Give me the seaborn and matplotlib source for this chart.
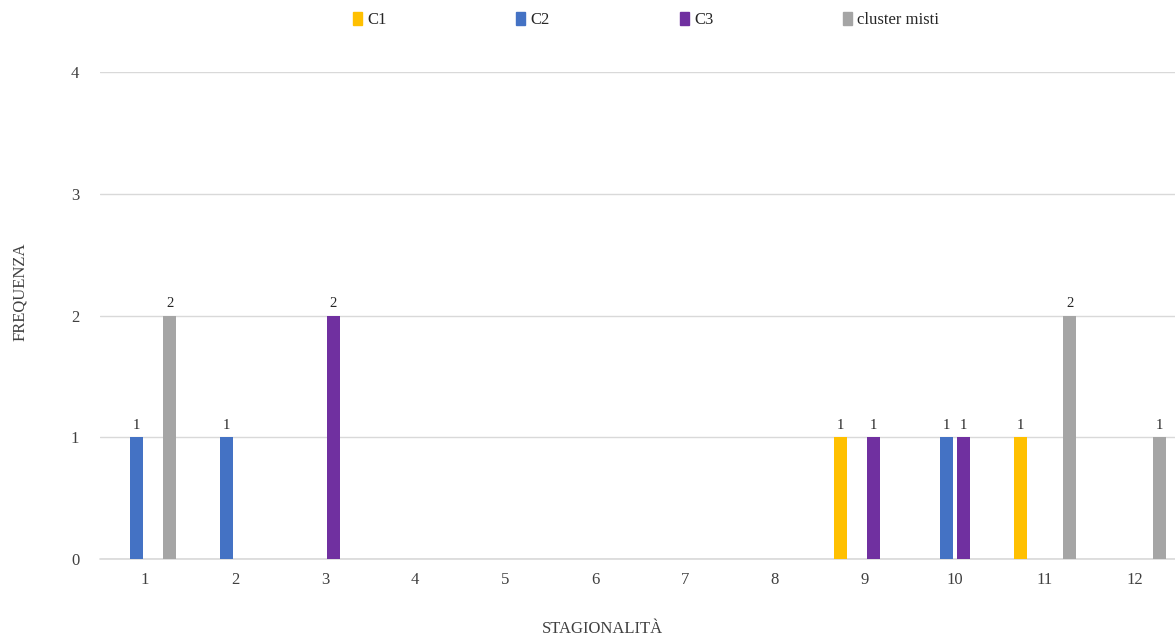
import pandas as pd
import numpy as np
import matplotlib
matplotlib.use("Agg")
import matplotlib.pyplot as plt
import seaborn as sns

# data
mesi = ["1", "2", "3", "4", "5", "6", "7", "8", "9", "10", "11", "12"]
c1 = [0, 0, 0, 0, 0, 0, 0, 0, 1, 0, 1, 0]
c2 = [1, 1, 0, 0, 0, 0, 0, 0, 0, 1, 0, 0]
c3 = [0, 0, 2, 0, 0, 0, 0, 0, 1, 1, 0, 0]
misti = [2, 0, 0, 0, 0, 0, 0, 0, 0, 0, 2, 1]
serie = ["C1", "C2", "C3", "cluster misti"]
colori = ["#FFC000", "#4472C4", "#7030A0", "#A5A5A5"]

df = pd.concat([
    pd.DataFrame({"mese": mesi, "freq": v, "serie": s})
    for s, v in zip(serie, [c1, c2, c3, misti])
])

sns.set_theme(style="white")
plt.rcParams["font.family"] = ["Liberation Serif", "DejaVu Serif"]

fig = plt.figure(figsize=(11.75, 6.41), dpi=100)
ax = fig.add_axes([100 / 1175, (641 - 559) / 641, 1080 / 1175, 487 / 641])

sns.barplot(data=df, x="mese", y="freq", hue="serie", order=mesi,
            hue_order=serie, palette=colori, width=0.733, gap=0.21,
            saturation=1, linewidth=0, errorbar=None, ax=ax, legend=True)

#etichette solo sulle barre non nulle
for cont in ax.containers:
    labs = [str(int(b.get_height())) if b.get_height() > 0 else "" for b in cont]
    ax.bar_label(cont, labels=labs, padding=4, fontsize=10.5, color="#262626")

ax.set_xlim(-0.5, 11.5)
ax.set_ylim(0, 4)
ax.set_yticks([0, 1, 2, 3, 4])
ax.yaxis.grid(True, color="#D9D9D9", linewidth=1)
ax.axhline(0, color="#D9D9D9", linewidth=1.2, clip_on=False, zorder=0.5)
ax.set_axisbelow(True)
sns.despine(ax=ax, left=True, bottom=True, top=True, right=True)
ax.tick_params(axis="both", length=0, labelsize=12, colors="#404040")
ax.tick_params(axis="x", pad=9)
ax.tick_params(axis="y", pad=15)

ax.set_xlabel("STAGIONALITÀ", fontsize=12, color="#404040")
ax.set_ylabel("FREQUENZA", fontsize=12, color="#404040")
ax.xaxis.set_label_coords((602 - 100) / 1080, -(621 - 559) / 487)
ax.yaxis.set_label_coords(-(100 - 28) / 1080, (559 - 292) / 487)

ax.legend_.remove()
handles = [plt.Rectangle((0, 0), 1, 1, color=c) for c in colori]
fig.legend(handles, serie, loc="center", bbox_to_anchor=(646 / 1175, 1 - 20 / 641),
           ncol=4, frameon=False, fontsize=12, handlelength=0.55, handleheight=0.8,
           handletextpad=0.3, columnspacing=7.8, labelcolor="#262626")

fig.savefig("out.png", dpi=100)
